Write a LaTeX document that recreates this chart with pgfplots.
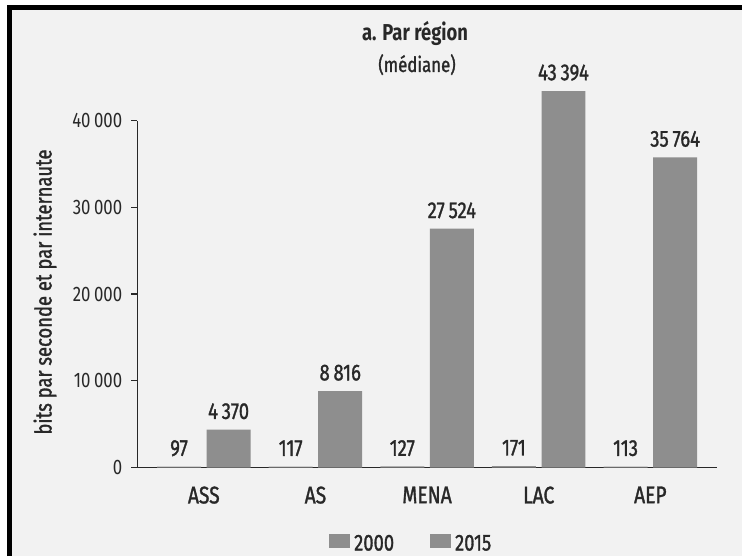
\documentclass[border=0pt]{standalone}
\usepackage{pgfplots}
\pgfplotsset{compat=1.18}
\usepackage{fontspec}
\setmainfont{Fira Sans}[FakeStretch=0.8]
\newfontfamily\semib{Fira Sans}[FakeStretch=0.8, FakeBold=1.3]
\definecolor{barcol}{RGB}{142,142,142}
\definecolor{bgcol}{RGB}{242,242,242}
\definecolor{txt}{RGB}{40,40,40}
\begin{document}
\begin{tikzpicture}[x=0.5pt,y=0.5pt]
\fill[white] (0,0) rectangle (742,556);
\fill[bgcol] (12,0) rectangle (742,546);
\draw[black,line width=2.5pt] (9.5,0) -- (9.5,548.5) -- (742,548.5);
\node[anchor=base,text=txt,font=\fontsize{11.5}{13}\selectfont\bfseries] at (415,515) {a. Par région};
\node[anchor=base,text=txt,font=\fontsize{10.5}{12}\selectfont\semib] at (417,484) {(médiane)};
\node[rotate=90,text=txt,font=\fontsize{11.5}{13}\selectfont\semib] at (45,264) {bits par seconde et par internaute};
\begin{axis}[
  at={(123,102)}, anchor=south west,
  scale only axis, width=290pt, height=173.5pt,
  xmin=-0.596, xmax=4.60, ymin=0, ymax=40000,
  clip=false,
  scaled y ticks=false,
  axis x line=bottom, axis y line=left,
  axis line style={-, draw=txt, line width=0.7pt},
  xtick={0,1,2,3,4}, xticklabels={ASS,AS,MENA,LAC,AEP},
  x tick style={draw=none},
  ytick={0,10000,20000,30000,40000},
  yticklabels={0,10\,000,20\,000,30\,000,40\,000},
  y tick style={draw=txt, line width=0.7pt},
  tick align=outside, major tick length=3pt,
  /pgf/number format/assume math mode=true,
  yticklabel style={font=\fontsize{10.5}{12}\selectfont, text=txt, xshift=-1pt},
  xticklabel style={font=\fontsize{12}{14}\selectfont\semib, text=txt, yshift=-3pt},
  nodes near coords,
  point meta=explicit symbolic,
  every node near coord/.style={anchor=south, inner sep=0pt, yshift=5pt, font=\fontsize{11.5}{13}\selectfont\semib, text=txt},
  legend columns=2,
  legend style={at={(0.474,-0.17)}, anchor=north, draw=none, fill=none,
    font=\fontsize{11.5}{13}\selectfont\semib, text=txt,
    /tikz/every even column/.append style={column sep=16pt}},
  legend image code/.code={\fill[barcol] (0pt,-2pt) rectangle (10.5pt,5pt);},
]
% 2000: bars placed left of each category centre
\addplot[ybar, bar width=0.394, bar shift=0pt, fill=barcol, draw=none]
  coordinates {(-0.222,97) [97] (0.778,117) [117] (1.778,127) [127] (2.778,171) [171] (3.778,113) [113]};
\addlegendentry{2000}
% 2015: bars placed right of each category centre
\addplot[ybar, bar width=0.394, bar shift=0pt, fill=barcol, draw=none]
  coordinates {(0.222,4370) [4\,370] (1.222,8816) [8\,816] (2.222,27524) [27\,524] (3.222,43394) [43\,394] (4.222,35764) [35\,764]};
\addlegendentry{2015}
\end{axis}
\pgfresetboundingbox
\path[use as bounding box] (0,0) rectangle (742,556);
\end{tikzpicture}
\end{document}
